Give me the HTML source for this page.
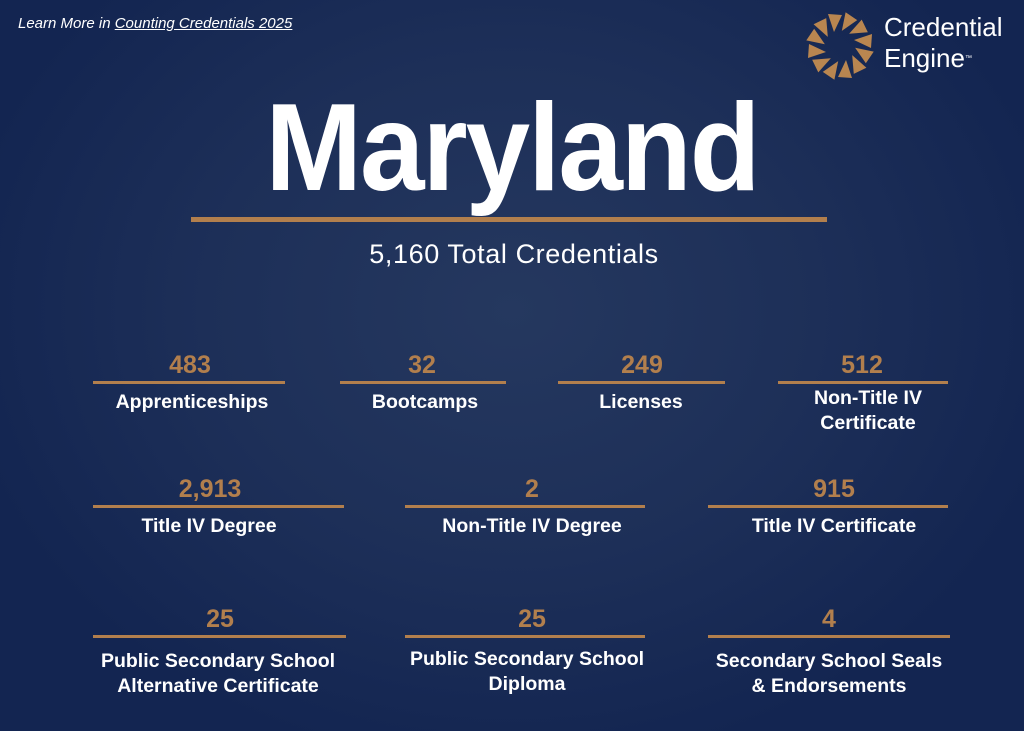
<!DOCTYPE html>
<html><head><meta charset="utf-8"><style>
body{margin:0}
#page{position:relative;width:1024px;height:731px;overflow:hidden;font-family:"Liberation Sans",sans-serif;
background:radial-gradient(ellipse 560px 460px at 512px 310px,#25385f 0%,#1d2f58 55%,#132551 100%);}
.a{position:absolute;white-space:nowrap}
.num{position:absolute;transform:translateX(-50%);color:#b27f4d;font-weight:bold;font-size:25px}
.lab{position:absolute;transform:translateX(-50%);color:#fff;font-weight:bold;font-size:19.5px;text-align:center;line-height:24.5px;white-space:nowrap}
.ln{position:absolute;height:3px;background:#b27f4d}
</style></head><body>
<div id="page">
<div class="a" style="left:18px;top:15px;color:#fff;font-style:italic;font-size:15px">Learn More in <span style="text-decoration:underline">Counting Credentials 2025</span></div>
<svg class="a" style="left:806px;top:12px" width="68" height="68" viewBox="-34 -34 68 68" id="logo"></svg>
<div class="a" style="left:884px;top:12px;color:#fff;font-size:26px;line-height:31px">Credential<br>Engine<span style="font-size:7px;vertical-align:top">™</span></div>
<div class="a" style="left:0;width:1024px;top:82px;text-align:center;color:#fff;font-weight:bold;font-size:116px;letter-spacing:-2px;line-height:130px;transform:scaleY(1.07)">Maryland</div>
<div class="a" style="left:191px;width:636px;top:217px;height:5px;background:#b27f4d"></div>
<div class="a" style="left:0;width:1028px;top:239px;text-align:center;color:#fff;font-size:27px;letter-spacing:0.6px">5,160 Total Credentials</div>
<div id="stats"></div>
</div>
<script>
const values=["483","32","249","512","2,913","2","915","25","25","4"];
const labels=["Apprenticeships","Bootcamps","Licenses","Non-Title IV<br>Certificate","Title IV Degree","Non-Title IV Degree","Title IV Certificate","Public Secondary School<br>Alternative Certificate","Public Secondary School<br>Diploma","Secondary School Seals<br>&amp; Endorsements"];
const layout=[[93,285,381,190,192,392],[340,506,381,422,425,392],[558,725,381,642,641,392],[778,948,381,862,868,388],
[93,344,505,210,209,516],[405,645,505,532,532,516],[708,948,505,834,834,516],
[93,346,635,220,218,651],[405,645,635,532,527,649],[708,950,635,829,829,651]];
const st=document.getElementById('stats');
values.forEach((v,i)=>{const L=layout[i];
 const ln=document.createElement('div');ln.className='ln';
 
 
 ln.style.left=L[0]+'px';ln.style.width=(L[1]-L[0])+'px';ln.style.top=L[2]+'px';st.appendChild(ln);
 const n=document.createElement('div');n.className='num';
 
 
 n.style.left=L[3]+'px';n.style.top=(L[2]-30)+'px';n.textContent=v;st.appendChild(n);
 const t=document.createElement('div');t.className='lab';
 
 
 t.style.left=L[4]+'px';t.style.top=(L[5]-2)+'px';t.innerHTML=labels[i];st.appendChild(t);
});
const lg=document.getElementById('logo');let s='';
for(let k=0;k<12;k++){s+=`<polygon points="14,-6 32,-12 31,2" fill="#b98650" transform="rotate(${k*30})"/>`;}
lg.innerHTML=s;
</script>
</body></html>
